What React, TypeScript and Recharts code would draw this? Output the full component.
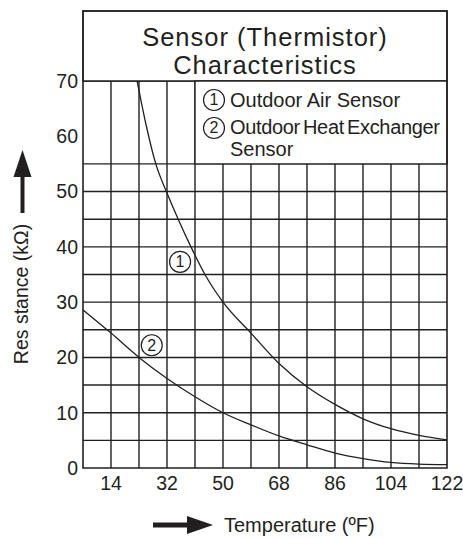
import {
  CartesianGrid,
  Line,
  LineChart,
  ReferenceArea,
  ReferenceDot,
  XAxis,
  YAxis,
} from "recharts";

const INK = "#231f20";
const FONT = "'Liberation Sans', Arial, sans-serif";

// ① outdoor air sensor, resistance (kΩ) against temperature (°F)
const airTemps = [22.4, 25.5, 28.4, 31.8, 35.6, 39.7, 44.2, 50, 59, 68, 77, 86, 95, 104, 113, 122];
const airKOhm = [70, 61.5, 55, 50, 45, 40, 35, 30, 24.4, 18.9, 14.7, 11.5, 8.9, 7.1, 5.9, 5.1];

// ② outdoor heat exchanger sensor
const hexTemps = [5, 14, 23, 32, 41, 50, 59, 68, 77, 86, 95, 104, 113, 122];
const hexKOhm = [28.6, 24.4, 20, 16.2, 12.9, 10, 7.8, 5.8, 4.2, 2.7, 1.7, 1.0, 0.7, 0.6];

// circled curve markers
const markerNums = ["1", "2"];
const markerTemps = [36.2, 27.1];
const markerKOhm = [37.3, 22.2];

const tempTicks = [14, 32, 50, 68, 86, 104, 122];
const kOhmTicks = [0, 10, 20, 30, 40, 50, 60, 70];
const tempGrid = [14, 23, 32, 41, 50, 59, 68, 77, 86, 95, 104, 113];
const kOhmGrid = [5, 10, 15, 20, 25, 30, 35, 40, 45, 50, 55, 70];

const T_MIN = 5;
const T_MAX = 122;
const K_TOP = 82.66; // room for the title box above 70 kΩ

const airData = airTemps.map((t, i) => ({ t, r: airKOhm[i] }));
const hexData = hexTemps.map((t, i) => ({ t, r: hexKOhm[i] }));

function TitleLabel({ viewBox }: any) {
  const cx = viewBox.x + viewBox.width / 2;
  return (
    <text x={cx} y={viewBox.y + 34.5} fill={INK} fontSize={25.5} letterSpacing={1} textAnchor="middle">
      <tspan x={cx}>Sensor (Thermistor)</tspan>
      <tspan x={cx} dy={28.5}>
        Characteristics
      </tspan>
    </text>
  );
}

function Circled({ x, y, n }: { x: number; y: number; n: string }) {
  return (
    <g>
      <circle cx={x} cy={y} r={10.5} fill="#fff" stroke={INK} strokeWidth={1.2} />
      <text x={x} y={y + 5.5} textAnchor="middle" fontSize={16} fill={INK}>
        {n}
      </text>
    </g>
  );
}

function LegendLabel({ viewBox }: any) {
  const { x, y } = viewBox;
  return (
    <g fontSize={20} fill={INK}>
      <Circled x={x + 19} y={y + 19} n="1" />
      <text x={x + 35} y={y + 26.5}>Outdoor Air Sensor</text>
      <Circled x={x + 19} y={y + 47} n="2" />
      <text x={x + 35} y={y + 53.5} letterSpacing={-0.35} wordSpacing={-2}>
        Outdoor Heat Exchanger
      </text>
      <text x={x + 35} y={y + 75}>Sensor</text>
    </g>
  );
}

export default function App() {
  return (
    <div style={{ position: "absolute", left: 0, top: 0, width: 463, height: 538, fontFamily: FONT, background: "#fff" }}>
      <LineChart width={463} height={538} margin={{ top: 11, right: 16, bottom: 40, left: 23 }}>
        <CartesianGrid
          stroke={INK}
          strokeWidth={1.4}
          horizontalValues={kOhmGrid}
          verticalValues={tempGrid}
        />
        <XAxis
          type="number"
          dataKey="t"
          domain={[T_MIN, T_MAX]}
          ticks={tempTicks}
          interval={0}
          height={30}
          axisLine={false}
          tickLine={false}
          tickSize={0}
          tickMargin={8}
          tick={{ fill: INK, fontSize: 19.5 }}
        />
        <YAxis
          type="number"
          domain={[0, K_TOP]}
          ticks={kOhmTicks}
          interval={0}
          width={60}
          axisLine={false}
          tickLine={false}
          tickSize={0}
          tickMargin={5}
          tick={{ fill: INK, fontSize: 19.5 }}
        />
        <ReferenceArea
          x1={T_MIN}
          x2={T_MAX}
          y1={70}
          y2={K_TOP}
          fill="#fff"
          fillOpacity={1}
          stroke={INK}
          strokeWidth={1.4}
          label={TitleLabel}
        />
        <ReferenceArea
          x1={41}
          x2={T_MAX}
          y1={55}
          y2={70}
          fill="#fff"
          fillOpacity={1}
          stroke={INK}
          strokeWidth={1.4}
          label={LegendLabel}
        />
        <Line
          data={airData}
          dataKey="r"
          type="monotone"
          stroke={INK}
          strokeWidth={1.3}
          dot={false}
          isAnimationActive={false}
        />
        <Line
          data={hexData}
          dataKey="r"
          type="monotone"
          stroke={INK}
          strokeWidth={1.3}
          dot={false}
          isAnimationActive={false}
        />
        {markerNums.map((n, i) => (
          <ReferenceDot
            key={n}
            x={markerTemps[i]}
            y={markerKOhm[i]}
            r={10.5}
            fill="#fff"
            stroke={INK}
            strokeWidth={1.2}
            label={{ value: n, position: "center", fill: INK, fontSize: 16 }}
          />
        ))}
        <ReferenceArea
          x1={T_MIN}
          x2={T_MAX}
          y1={0}
          y2={K_TOP}
          fill="none"
          stroke={INK}
          strokeWidth={1.6}
        />
      </LineChart>
      {/* axis titles with their arrows */}
      <svg
        width={463}
        height={538}
        style={{ position: "absolute", left: 0, top: 0, pointerEvents: "none" }}
      >
        <line x1={22.5} y1={176} x2={22.5} y2={213} stroke={INK} strokeWidth={4} />
        <polygon points="22.5,150 13.5,177 31.5,177" fill={INK} />
        <text
          transform="translate(28,294) rotate(-90)"
          textAnchor="middle"
          fontSize={19.5}
          fill={INK}
        >
          Res stance (kΩ)
        </text>
        <line x1={153} y1={525} x2={189} y2={525} stroke={INK} strokeWidth={5} />
        <polygon points="213,525 187,516 187,534" fill={INK} />
        <text x={224} y={532} fontSize={20} fill={INK}>
          Temperature (ºF)
        </text>
      </svg>
    </div>
  );
}
